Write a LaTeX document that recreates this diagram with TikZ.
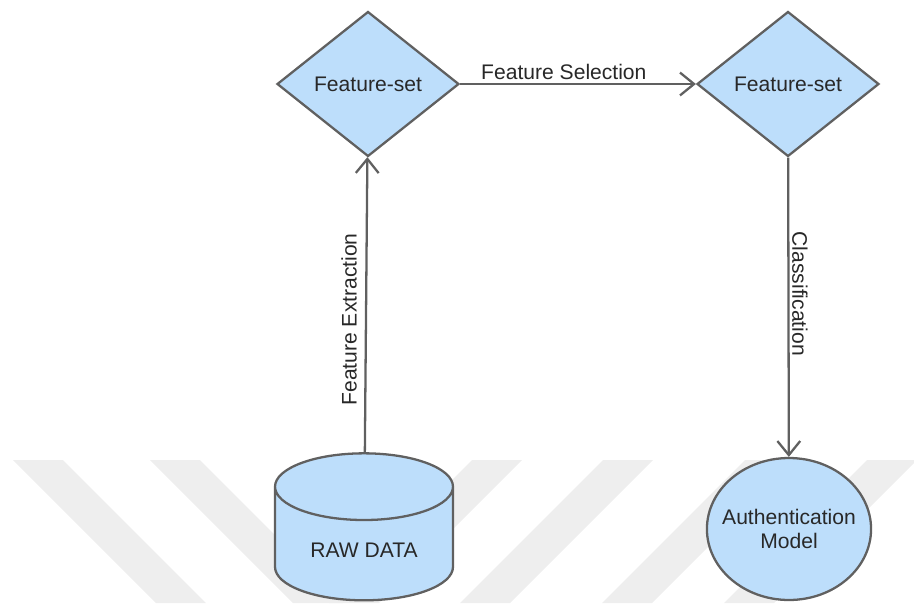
\documentclass[tikz,border=0pt]{standalone}
\usepackage{fontspec}
\setmainfont{Liberation Sans}
\usetikzlibrary{shapes.geometric,arrows.meta}
\definecolor{boxfill}{RGB}{189,222,251}
\definecolor{edgegray}{RGB}{96,96,96}
\definecolor{textdark}{RGB}{40,40,40}
\definecolor{stripegray}{RGB}{238,238,238}
\begin{document}
\begin{tikzpicture}[x=0.02cm, y=-0.02cm]
\tikzset{losange/.style={draw=edgegray, fill=boxfill, diamond, line width=1.3pt, minimum width=3.64cm, minimum height=2.9cm, inner sep=0pt, text=textdark, font=\fontsize{12}{14}\selectfont}}
\tikzset{base/.style={draw=edgegray, fill=boxfill, cylinder, shape border rotate=90, aspect=0.56, line width=1.3pt, minimum width=3.56cm, minimum height=2.94cm, text=textdark, font=\fontsize{12}{14}\selectfont}}
\tikzset{modele/.style={draw=edgegray, fill=boxfill, ellipse, line width=1.3pt, minimum width=3.28cm, minimum height=2.84cm, inner xsep=-5pt, inner ysep=0pt, align=center, text=textdark, font=\fontsize{12}{14}\selectfont}}
\tikzset{fleche/.style={draw=edgegray, line width=1.3pt, -{Straight Barb[length=8pt, width=13pt]}}}
\tikzset{etiq/.style={text=textdark, font=\fontsize{12}{14}\selectfont}}
\tikzset{bande/.style={fill=stripegray}}
\useasboundingbox (0,0) rectangle (914,603);
\fill[bande] (13,460) -- (63,460) -- (206,603) -- (156,603) -- cycle;
\fill[bande] (150,460) -- (200,460) -- (343,603) -- (293,603) -- cycle;
\fill[bande] (472,460) -- (522,460) -- (379,603) -- (329,603) -- cycle;
\fill[bande] (603,460) -- (653,460) -- (510,603) -- (460,603) -- cycle;
\fill[bande] (745,460) -- (795,460) -- (652,603) -- (602,603) -- cycle;
\fill[bande] (867,460) -- (917,460) -- (774,603) -- (724,603) -- cycle;
\node[losange] (FS1) at (368,84) {Feature-set};
\node[losange] (FS2) at (788,84) {Feature-set};
\node[base] (RAW) at (364,550) {RAW DATA};
\node[modele] (AUTH) at (789,529) {Authentication\\Model};
\draw[fleche] (FS1) -- node[etiq, pos=0.44, above, inner sep=2pt] {Feature Selection} (FS2);
\draw[fleche] (RAW) -- node[etiq, pos=0.45, rotate=90, anchor=south, inner sep=4.5pt] {Feature Extraction} (FS1);
\draw[fleche] (FS2) -- node[etiq, pos=0.455, rotate=-90, anchor=south, inner sep=1.5pt] {Classification} (AUTH);
\end{tikzpicture}
\end{document}
